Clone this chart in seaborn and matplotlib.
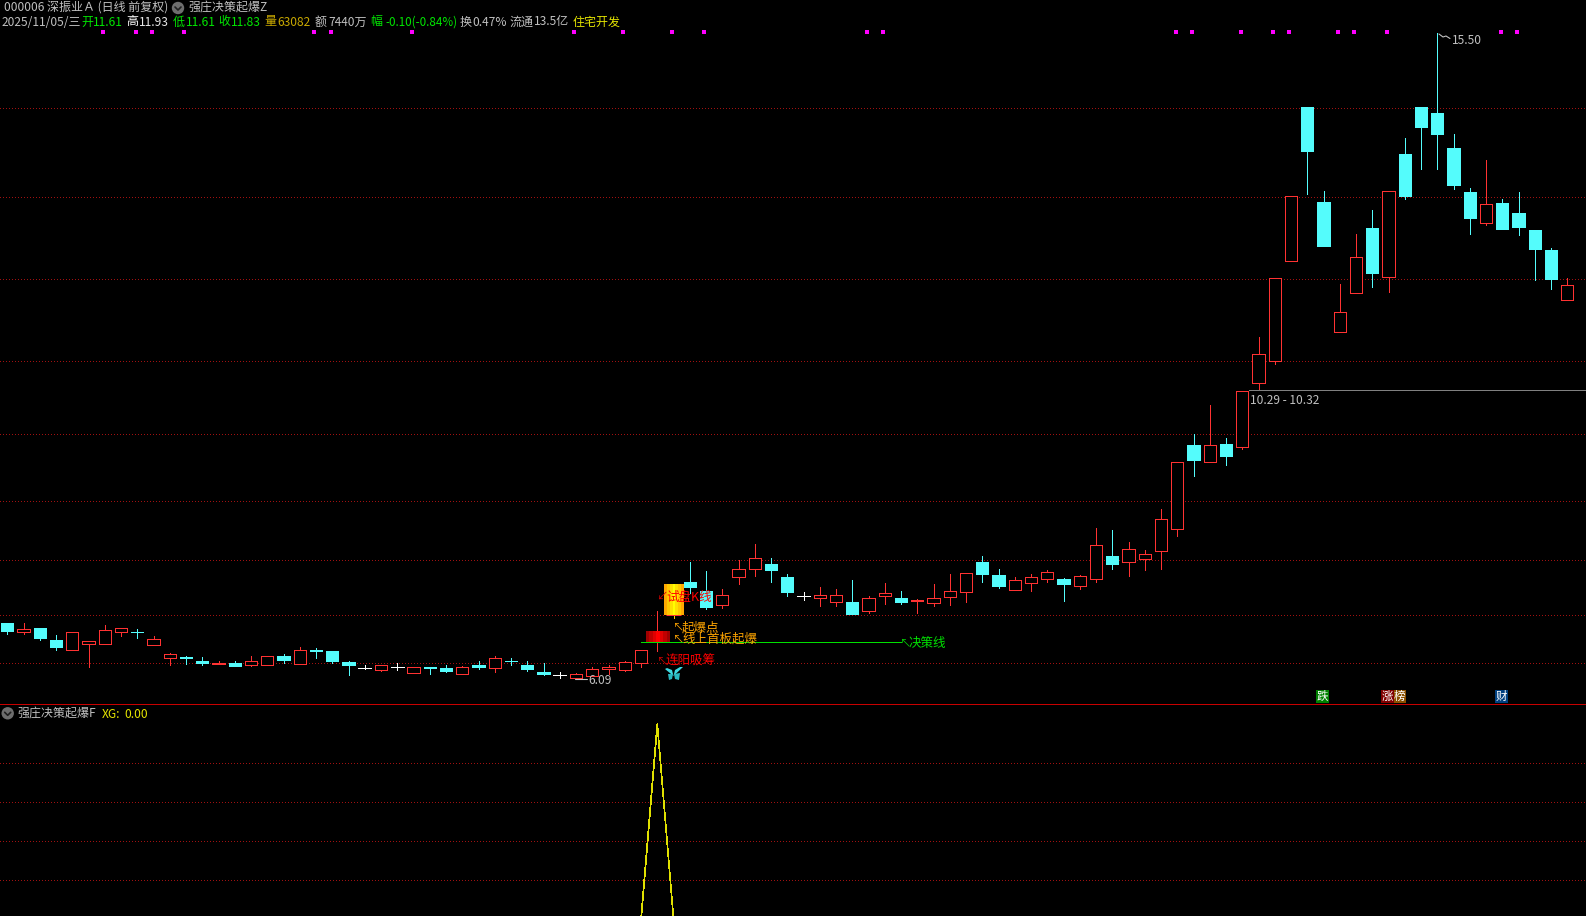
import numpy as np
import pandas as pd
import seaborn as sns
import matplotlib.pyplot as plt
from matplotlib.colors import ListedColormap
from matplotlib.patches import Circle, Polygon, Rectangle

# daily prices, 000006
opens = [6.91, 6.77, 6.83, 6.66, 6.52, 6.60, 6.60, 6.77, 6.78, 6.59,
         6.39, 6.41, 6.35, 6.31, 6.32, 6.30, 6.30, 6.42, 6.31, 6.51,
         6.50, 6.34, 6.25, 6.22, 6.26, 6.18, 6.26, 6.25, 6.16, 6.29,
         6.25, 6.36, 6.29, 6.19, 6.15, 6.10, 6.14, 6.23, 6.22, 6.33,
         6.63, 7.02, 7.50, 7.37, 7.17, 7.58, 7.70, 7.77, 7.58, 7.30,
         7.27, 7.22, 7.21, 7.08, 7.30, 7.27, 7.23, 7.20, 7.28, 7.36,
         7.80, 7.61, 7.39, 7.49, 7.55, 7.55, 7.44, 7.55, 7.88, 7.80,
         7.84, 7.95, 8.28, 9.50, 9.26, 9.52, 9.47, 10.40, 10.73, 12.19,
         14.43, 13.04, 11.15, 11.71, 12.66, 11.95, 13.74, 14.43, 14.34, 13.83,
         13.19, 12.74, 13.03, 12.88, 12.63, 12.34, 11.61]
highs = [6.91, 6.90, 6.83, 6.73, 6.77, 6.64, 6.88, 6.83, 6.82, 6.72,
         6.47, 6.43, 6.41, 6.35, 6.35, 6.42, 6.42, 6.45, 6.56, 6.54,
         6.50, 6.35, 6.30, 6.30, 6.32, 6.27, 6.27, 6.30, 6.28, 6.35,
         6.43, 6.40, 6.35, 6.32, 6.19, 6.18, 6.26, 6.30, 6.36, 6.51,
         7.08, 7.46, 7.80, 7.66, 7.40, 7.83, 8.06, 7.85, 7.62, 7.36,
         7.43, 7.40, 7.53, 7.30, 7.49, 7.37, 7.25, 7.48, 7.62, 7.63,
         7.88, 7.69, 7.58, 7.62, 7.68, 7.56, 7.61, 8.29, 8.26, 8.09,
         7.97, 8.57, 9.26, 9.66, 10.08, 9.60, 10.29, 11.07, 11.93, 13.13,
         14.43, 13.20, 11.85, 12.58, 12.93, 13.21, 13.98, 14.43, 15.50, 14.03,
         13.25, 13.66, 13.09, 13.19, 12.63, 12.38, 11.93]
lows = [6.75, 6.75, 6.66, 6.51, 6.52, 6.27, 6.60, 6.72, 6.69, 6.59,
        6.29, 6.31, 6.29, 6.31, 6.28, 6.28, 6.30, 6.33, 6.31, 6.40,
        6.32, 6.15, 6.24, 6.20, 6.22, 6.18, 6.16, 6.19, 6.16, 6.23,
        6.19, 6.29, 6.20, 6.15, 6.10, 6.09, 6.13, 6.16, 6.20, 6.27,
        6.50, 6.98, 7.34, 7.11, 7.13, 7.47, 7.59, 7.50, 7.30, 7.24,
        7.15, 7.15, 7.04, 7.05, 7.18, 7.18, 7.05, 7.15, 7.17, 7.21,
        7.50, 7.42, 7.39, 7.37, 7.50, 7.23, 7.40, 7.50, 7.69, 7.59,
        7.68, 7.69, 8.17, 9.05, 9.26, 9.21, 9.44, 10.32, 10.68, 12.19,
        13.16, 12.40, 11.15, 11.71, 11.80, 11.73, 13.09, 13.52, 13.52, 13.23,
        12.58, 12.71, 12.65, 12.56, 11.90, 11.78, 11.61]
closes = [6.79, 6.82, 6.69, 6.55, 6.77, 6.64, 6.80, 6.83, 6.77, 6.68,
          6.45, 6.40, 6.32, 6.32, 6.28, 6.35, 6.42, 6.37, 6.51, 6.50,
          6.35, 6.29, 6.25, 6.29, 6.26, 6.26, 6.25, 6.21, 6.26, 6.26,
          6.39, 6.35, 6.23, 6.16, 6.15, 6.16, 6.23, 6.26, 6.34, 6.51,
          6.78, 7.46, 7.43, 7.14, 7.32, 7.69, 7.85, 7.68, 7.36, 7.30,
          7.32, 7.31, 7.04, 7.27, 7.34, 7.21, 7.24, 7.27, 7.37, 7.63,
          7.62, 7.45, 7.53, 7.57, 7.65, 7.48, 7.59, 8.04, 7.77, 7.98,
          7.91, 8.42, 9.26, 9.28, 9.50, 9.34, 10.29, 10.83, 11.93, 13.13,
          13.79, 12.40, 11.44, 12.24, 12.01, 13.21, 13.13, 14.14, 14.03, 13.29,
          12.81, 13.02, 12.65, 12.68, 12.36, 11.92, 11.83]
xg = [0.0] * 97
xg[40] = 1.0

price_levels = [14.42, 13.11, 11.92, 10.72, 9.66, 8.69, 7.82, 7.03, 6.33]
xg_levels = [0.2, 0.4, 0.6, 0.8]
signal_days = [6, 8, 9, 11, 19, 20, 25, 35, 38, 41, 43, 53, 54, 72, 73, 76, 78, 79, 82, 83, 85, 92, 93]
signal_price = 15.52
gap_range = [10.29, 10.32]
decision_price = 6.63
decision_days = [39, 55]

RED = '#ff3232'
CYAN = '#54fcfc'
GRAY = '#c0c0c0'
GREEN = '#00e600'
YELLOW = '#e6e600'
GOLD = '#c8a800'
GRID = '#a01010'
THIN = 0.7

sns.set_theme(style='dark', rc={'axes.facecolor': 'black', 'figure.facecolor': 'black', 'axes.grid': False})
plt.rcParams['font.family'] = ['Noto Sans CJK SC', 'DejaVu Sans']

df = pd.DataFrame({'day': range(len(opens)), 'open': opens, 'high': highs, 'low': lows, 'close': closes, 'xg': xg})
df['color'] = np.where(df.close > df.open, RED, np.where(df.close < df.open, CYAN, '#ffffff'))
df['wick'] = df.color
df.loc[41, 'wick'] = '#ffc800'

fig = plt.figure(figsize=(15.86, 9.16), dpi=100)
ax = fig.add_axes([0, 212 / 916, 1, 704 / 916])
ax2 = fig.add_axes([0, 0, 1, 211 / 916])
pix = fig.add_axes([0, 0, 1, 1], zorder=5)
for a in (ax, ax2):
    a.set_xlim(-0.449, 97.15)
    a.set_axis_off()
ax.set_ylim(5.726, 15.988)
ax2.set_ylim(0.017, 1.099)
pix.set_xlim(0, 1586)
pix.set_ylim(916, 0)
pix.set_axis_off()

dots = dict(linestyles=[(0, (1, 3))], linewidth=THIN, antialiased=False, colors=GRID, zorder=1)
ax.hlines(price_levels, -0.449, 97.15, **dots)
ax2.hlines(xg_levels, -0.449, 97.15, **dots)

# candles
ax.vlines(df.day, df.low, df.high, colors=df.wick, linewidth=THIN, antialiased=False, zorder=2)
flat = df[df.open == df.close]
ax.hlines(flat.open, flat.day - 0.4, flat.day + 0.4, colors='#ffffff', linewidth=THIN, antialiased=False, zorder=3)
box = df[df.open != df.close]
ax.bar(box.day, (box.close - box.open).abs(), bottom=box[['open', 'close']].min(axis=1), width=0.76,
       facecolor=np.where(box.close > box.open, 'black', CYAN),
       edgecolor=box.color, linewidth=THIN, antialiased=False, zorder=3)

# the two marked days are painted with a stepped gradient
steps_red = ['#a00000', '#c00000', '#e00000', '#ff0000', '#e00000', '#c00000', '#a00000']
steps_yel = ['#ffa800', '#ffc800', '#ffe000', '#ffff00', '#ffe000', '#ffc800', '#ffa800']
for day, steps, w in [(40, steps_red, 1.42), (41, steps_yel, 1.17)]:
    ax.imshow([[0, 1, 2, 3, 4, 5, 6]], cmap=ListedColormap(steps), aspect='auto', interpolation='nearest',
              extent=(day - w / 2, day + w / 2, opens[day], closes[day]), zorder=4)
ax.set_xlim(-0.449, 97.15)
ax.set_ylim(5.726, 15.988)

sns.scatterplot(x=np.array(signal_days) - 0.1, y=[signal_price] * len(signal_days), ax=ax, marker='s', s=7,
                color='#ff00ff', linewidth=0, legend=False, zorder=6)
ax.hlines(decision_price, decision_days[0], decision_days[1], colors='#00e000', linewidth=THIN,
          antialiased=False, zorder=6)
ax.hlines(sum(gap_range) / 2, 76.4, 97.15, colors='#808080', linewidth=THIN, antialiased=False, zorder=1)

sns.lineplot(data=df, x='day', y='xg', ax=ax2, color='#e0e000', linewidth=0.5, antialiased=False, legend=False)
ax2.set_axis_off()


def label(x, y, s, color=GRAY, size=8.64):
    pix.text(x, y + 1, s, color=color, fontsize=size, va='center', ha='left')


def icon(x, y):
    pix.add_patch(Circle((x, y), 6.2, color='#6e6e6e', lw=0))
    pix.plot([x - 3, x, x + 3], [y - 1, y + 2, y - 1], color='#202020', lw=1.2)


pix.hlines(704.3, 0, 1586, colors='#c80000', linewidth=THIN, antialiased=False)

# header
label(4, 7, '000006 深振业Ａ (日线 前复权)')
icon(178, 8)
label(188, 7, '强庄决策起爆Z')
y = 21
label(2, y, '2025/11/05/三')
label(81, y, '开', GREEN)
label(93, y, '11.61', GREEN)
label(126, y, '高', '#ffffff')
label(139, y, '11.93', '#e8e8e8')
label(173, y, '低', GREEN)
label(186, y, '11.61', GREEN)
label(218, y, '收', GREEN)
label(231, y, '11.83', GREEN)
label(264, y, '量', GOLD)
label(277, y, '63082', GOLD)
label(315, y, '额')
label(328, y, '7440万')
label(370, y, '幅', GREEN)
label(385, y, '-0.10(-0.84%)', GREEN, 8.4)
label(460, y, '换')
label(472, y, '0.47%')
label(509, y, '流通')
label(534, y, '13.5亿')
label(573, y, '住宅开发', YELLOW)

# price notes
label(1452, 39, '15.50')
pix.plot([1439, 1443, 1446, 1450], [34, 37, 36, 38.5], color=GRAY, lw=0.8)
label(588, 680, '6.09')
pix.plot([575, 587], [679, 679], color=GRAY, lw=0.8)
label(1250, 400, '10.29 - 10.32')

# formula notes
ORANGE = '#ffa500'
label(656, 596, '↙', '#d00000', 8)
label(666, 596, '试盘K线', '#ff0000', 9)
label(672, 627, '↖', ORANGE, 8)
label(682, 627, '起爆点', ORANGE, 9)
label(672, 638, '↖', ORANGE, 8)
label(682, 638, '线上首板起爆', ORANGE, 9)
label(656, 660, '↖', '#d00000', 8)
label(666, 660, '连阳吸筹', '#ff0000', 9)
label(899, 642, '↖', '#00d000', 8)
label(908.5, 642, '决策线', '#00e000', 9)

# butterfly
pix.add_patch(Polygon([[673.5, 676], [665, 669], [667, 668], [672, 670]], color='#3fd8e0', lw=0))
pix.add_patch(Polygon([[673.5, 676], [683, 667], [680, 667], [675, 670]], color='#3fd8e0', lw=0))
pix.add_patch(Polygon([[673, 674], [668, 674], [669, 680], [672, 679]], color='#2ab8c0', lw=0))
pix.add_patch(Polygon([[674, 674], [680, 673], [679, 680], [675, 679]], color='#2ab8c0', lw=0))

# event tags
for x0, s, bg in [(1316, '跌', '#008000'), (1381, '涨', '#800000'), (1393.5, '榜', '#8a5000'), (1495, '财', '#004080')]:
    pix.add_patch(Rectangle((x0, 690), 12.7, 13, color=bg, lw=0))
    pix.text(x0 + 6.3, 696.8, s, color='#ffffff', fontsize=8.3, ha='center', va='center')

# lower pane title
icon(7.7, 713.3)
label(17, 713, '强庄决策起爆F')
label(101.5, 713, 'XG:', YELLOW)
label(124.5, 713, '0.00', YELLOW)

fig.savefig('out.png', dpi=100, facecolor='black')
